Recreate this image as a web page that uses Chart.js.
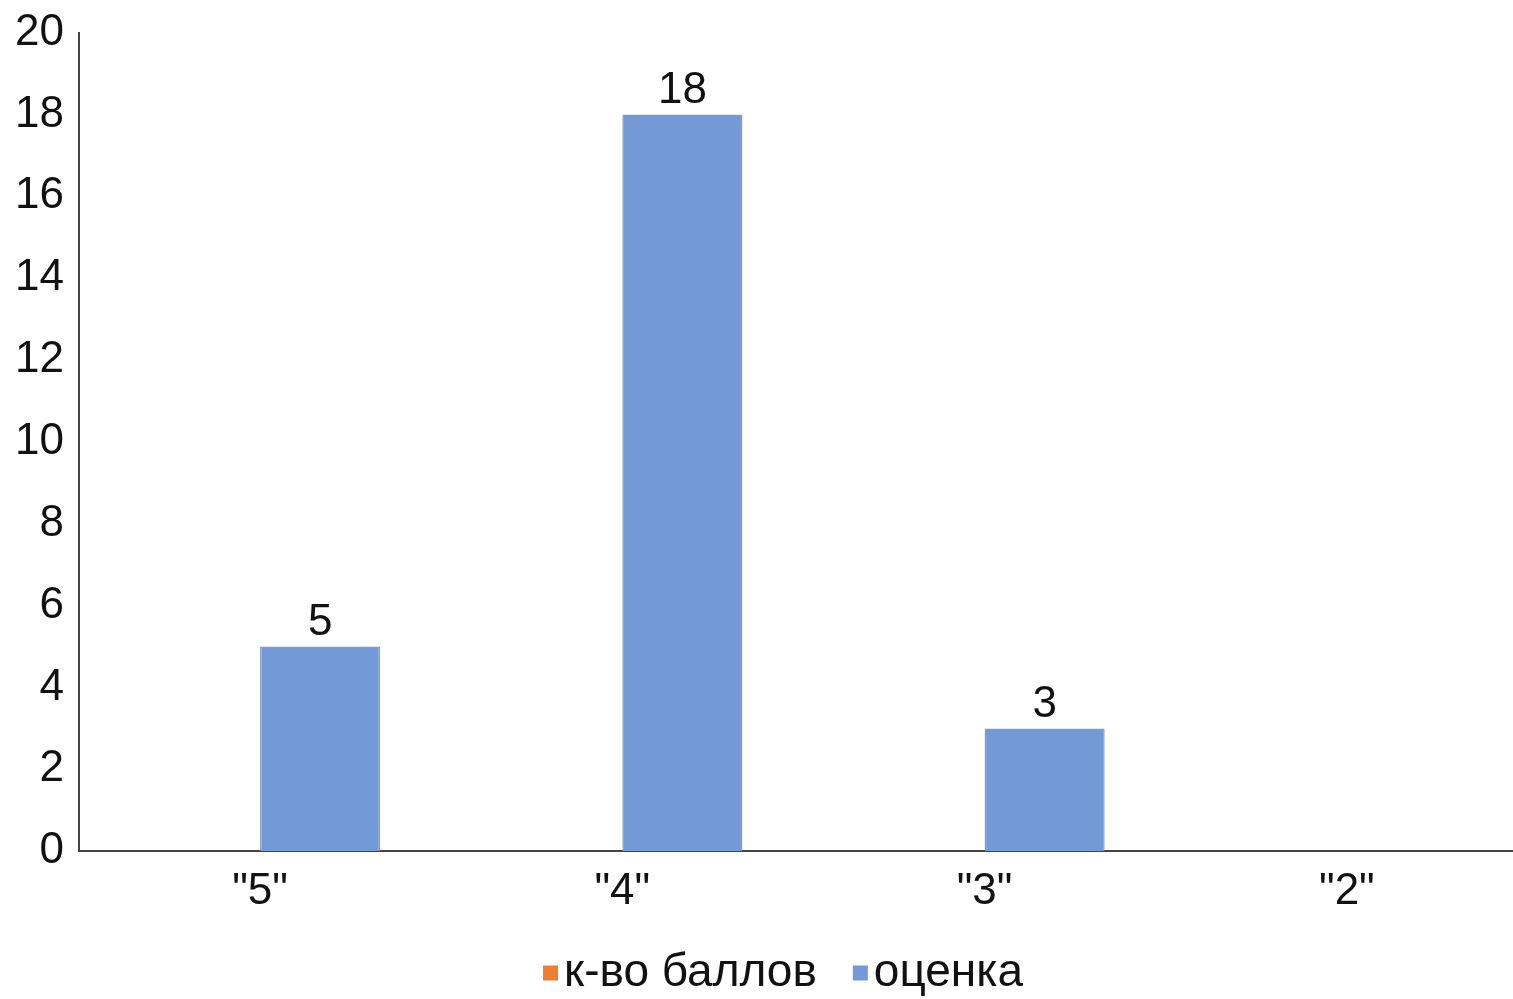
<!DOCTYPE html>
<html>
<head>
<meta charset="utf-8">
<script src="https://cdn.jsdelivr.net/npm/chart.js@4"></script>
<style>
  html, body { margin: 0; padding: 0; background: #fff; overflow: hidden; }
  #wrap { width: 1570px; height: 999px; }
</style>
</head>
<body>
<div id="wrap"><canvas id="gradesChart"></canvas></div>
<script>
const categories = ['"5"', '"4"', '"3"', '"2"'];
const pointsCount = [null, null, null, null];   // к-во баллов (пустой ряд)
const grades = [5, 18, 3, null];                // оценка
const yTicks = [0, 2, 4, 6, 8, 10, 12, 14, 16, 18, 20];

const fontFamily = '"Liberation Sans", Arial, sans-serif';

// подписи значений над столбцами
const valueLabels = {
    id: 'valueLabels',
    afterDatasetsDraw(chart) {
        const ctx = chart.ctx;
        const meta = chart.getDatasetMeta(1);
        ctx.save();
        ctx.font = '44px ' + fontFamily;
        ctx.fillStyle = '#111';
        ctx.textAlign = 'center';
        ctx.textBaseline = 'bottom';
        meta.data.forEach((bar, i) => {
            const v = chart.data.datasets[1].data[i];
            if (v === null || v === undefined) return;
            ctx.fillText(String(v), bar.x, bar.y - 2);
        });
        ctx.restore();
    }
};

// легенда снизу, квадратик вплотную к тексту
const bottomLegend = {
    id: 'bottomLegend',
    afterDraw(chart) {
        const ctx = chart.ctx;
        const sets = chart.data.datasets;
        const box = 15, gap = 6, itemGap = 36;
        ctx.save();
        ctx.font = '46px ' + fontFamily;
        ctx.textBaseline = 'middle';
        const widths = sets.map(ds => box + gap + ctx.measureText(ds.label).width);
        const total = widths.reduce((a, b) => a + b, 0) + itemGap * (sets.length - 1);
        let x = chart.width / 2 - total / 2 - 2;
        const y = chart.height - 26;
        sets.forEach((ds, i) => {
            ctx.fillStyle = ds.backgroundColor;
            ctx.fillRect(x, y - box / 2, box, box);
            ctx.fillStyle = '#111';
            ctx.fillText(ds.label, x + box + gap, y);
            x += widths[i] + itemGap;
        });
        ctx.restore();
    }
};

const ctx = document.getElementById('gradesChart').getContext('2d');

const gradesChart = new Chart(ctx, {
    type: 'bar',
    data: {
        labels: categories,
        datasets: [{
            label: 'к-во баллов',
            data: pointsCount,
            backgroundColor: '#ed7d31',
            borderWidth: 0
        }, {
            label: 'оценка',
            data: grades,
            backgroundColor: '#7399d6',
            borderColor: '#8a9ab5',
            borderWidth: 1.5
        }]
    },
    options: {
        responsive: true,
        maintainAspectRatio: false,
        animation: false,
        categoryPercentage: 0.663,
        barPercentage: 1,
        layout: {
            padding: { top: 0, right: 42, left: 0, bottom: 67 }
        },
        plugins: {
            legend: { display: false },
            tooltip: { enabled: false }
        },
        scales: {
            x: {
                grid: { display: false, drawTicks: false },
                border: { color: '#444', width: 2 },
                ticks: {
                    color: '#111',
                    padding: 14,
                    font: { size: 44, family: fontFamily }
                }
            },
            y: {
                min: 0,
                max: 20,
                afterBuildTicks: axis => {
                    axis.ticks = yTicks.map(v => ({ value: v }));
                },
                grid: { display: false, drawTicks: false },
                border: { color: '#444', width: 2 },
                ticks: {
                    color: '#111',
                    padding: 15,
                    font: { size: 44, family: fontFamily, lineHeight: 0.8 }
                }
            }
        }
    },
    plugins: [valueLabels, bottomLegend]
});
</script>
</body>
</html>
